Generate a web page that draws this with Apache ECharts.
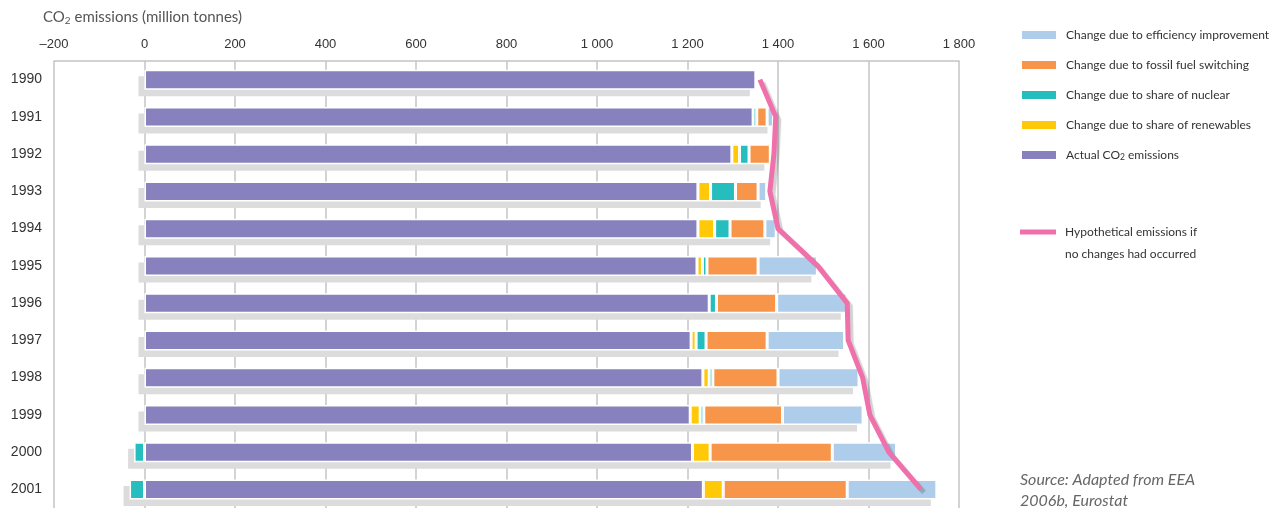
<!DOCTYPE html>
<html>
<head>
<meta charset="utf-8">
<script src="https://cdn.jsdelivr.net/npm/echarts@6/dist/echarts.min.js"></script>
<style>
html,body{margin:0;padding:0;background:#fff;}
#chart{width:1281px;height:509px;}
</style>
</head>
<body>
<div id="chart"></div>
<script>
// ---- data (million tonnes CO2) ----
const years = ['1990','1991','1992','1993','1994','1995','1996','1997','1998','1999','2000','2001'];
const actual      = [1351, 1345, 1298, 1223, 1223, 1221, 1248, 1208, 1234, 1206, 1211, 1235];
const renewables  = [0, 0, 17, 28, 37, 12, 0, 11, 14, 22, 39, 44];
const nuclear     = [0, 8, 21, 55, 34, 10, 16, 22, 8, 8, -23, -33];
const fossil      = [0, 23, 47, 50, 77, 113, 133, 135, 144, 174, 270, 274];
const efficiency  = [0, 14, 0, 19, 25, 131, 155, 171, 179, 178, 142, 198];
const hypothetical = [1360, 1395, 1391, 1382, 1400, 1488, 1553, 1555, 1587, 1603, 1645, 1716];
const xTicks = {min: -200, max: 1800, interval: 200};

const NAMES = {
  eff: 'Change due to efficiency improvement',
  fos: 'Change due to fossil fuel switching',
  nuc: 'Change due to share of nuclear',
  ren: 'Change due to share of renewables',
  act: 'Actual CO2 emissions',
  hyp: 'Hypothetical emissions if no changes had occurred'
};
const COLORS = {eff:'#aecdea', fos:'#f7964a', nuc:'#25bdbe', ren:'#ffc907', act:'#8781bd', hyp:'#ef70aa'};

// shadow extents built from the stacked values
const shadowData = years.map((y, i) => {
  const parts = [actual[i], renewables[i], nuclear[i], fossil[i], efficiency[i]];
  let pos = 0, neg = 0;
  parts.forEach(v => { if (v >= 0) pos += v; else neg += v; });
  return [i, neg, pos];
});

const SANS = '"Liberation Sans", Arial, sans-serif';
const LATO = 'Lato, "Open Sans", sans-serif';

function fmtTick(v) {
  if (v < 0) return '\u2013' + Math.abs(v);
  if (v >= 1000) return Math.floor(v / 1000) + ' ' + String(v % 1000).padStart(3, '0');
  return String(v);
}

const barBase = {
  type: 'bar',
  stack: 'total',
  barWidth: 20,
  z: 3,
  itemStyle: {borderColor: '#ffffff', borderWidth: 1.5},
  emphasis: {disabled: true}
};

const chart = echarts.init(document.getElementById('chart'), null, {renderer: 'canvas'});
chart.setOption({
  animation: false,
  backgroundColor: '#ffffff',
  grid: {left: 54, right: 322, top: 61, bottom: 1, containLabel: false},
  xAxis: {
    type: 'value',
    position: 'top',
    min: xTicks.min, max: xTicks.max, interval: xTicks.interval,
    axisLine: {show: true, lineStyle: {color: '#c4c4c4', width: 1.5}},
    axisTick: {show: false},
    axisLabel: {color: '#333', fontSize: 13, fontFamily: SANS, margin: 10, formatter: fmtTick},
    splitLine: {show: true, lineStyle: {color: '#c4c4c4', width: 1.5}}
  },
  yAxis: {
    type: 'category',
    data: years,
    inverse: true,
    axisLine: {show: false},
    axisTick: {show: false},
    axisLabel: {color: '#333', fontSize: 14, fontFamily: SANS, margin: 12},
    splitLine: {show: false}
  },
  legend: [
    {
      orient: 'vertical',
      left: 1020, top: 27,
      padding: 0,
      itemWidth: 36, itemHeight: 10, itemGap: 14,
      icon: 'rect',
      selectedMode: false,
      data: [NAMES.eff, NAMES.fos, NAMES.nuc, NAMES.ren, NAMES.act],
      formatter: function (name) {
        if (name === NAMES.act) return '{a|Actual CO}{s|2}{a| emissions}';
        return '{a|' + name + '}';
      },
      textStyle: {
        color: '#333', fontSize: 12, fontFamily: LATO, lineHeight: 16, padding: [0, 0, 0, 4],
        rich: {
          a: {color: '#333', fontSize: 12, fontFamily: LATO, lineHeight: 16},
          s: {color: '#333', fontSize: 8.5, fontFamily: LATO, lineHeight: 16, padding: [5, 0, 0, 0]}
        }
      }
    },
    {
      orient: 'vertical',
      left: 1020, top: 199,
      padding: 0,
      itemWidth: 36, itemHeight: 5,
      icon: 'rect',
      selectedMode: false,
      data: [NAMES.hyp],
      formatter: function () { return '\u00a0\nHypothetical emissions if\nno changes had occurred'; },
      textStyle: {color: '#333', fontSize: 12, fontFamily: LATO, lineHeight: 22, padding: [0, 0, 0, 4]}
    }
  ],
  graphic: [
    {
      type: 'text', left: 43, top: 10,
      style: {
        text: '{a|CO}{s|2}{a| emissions (million tonnes)}',
        rich: {
          a: {fontSize: 15, fontFamily: LATO, fill: '#555'},
          s: {fontSize: 10, fontFamily: LATO, fill: '#555', padding: [6, 0, 0, 0]}
        }
      }
    },
    {
      type: 'text', left: 1020, top: 469,
      style: {
        text: 'Source: Adapted from EEA\n2006b, Eurostat',
        fontSize: 16, fontStyle: 'italic', fontFamily: LATO,
        fill: '#666', lineHeight: 21
      }
    }
  ],
  series: [
    {
      type: 'custom',
      name: 'shadow',
      z: 1,
      silent: true,
      encode: {x: [1, 2], y: 0},
      data: shadowData,
      renderItem: function (params, api) {
        const cat = api.value(0);
        const s = api.coord([api.value(1), cat]);
        const e = api.coord([api.value(2), cat]);
        return {
          type: 'rect',
          shape: {x: s[0] - 6, y: s[1] - 10 + 6.5, width: e[0] - s[0], height: 20},
          style: {fill: '#dcdcdc'}
        };
      }
    },
    Object.assign({}, barBase, {name: NAMES.act, data: actual, itemStyle: Object.assign({}, barBase.itemStyle, {color: COLORS.act})}),
    Object.assign({}, barBase, {name: NAMES.ren, data: renewables, itemStyle: Object.assign({}, barBase.itemStyle, {color: COLORS.ren})}),
    Object.assign({}, barBase, {name: NAMES.nuc, data: nuclear, itemStyle: Object.assign({}, barBase.itemStyle, {color: COLORS.nuc})}),
    Object.assign({}, barBase, {name: NAMES.fos, data: fossil, itemStyle: Object.assign({}, barBase.itemStyle, {color: COLORS.fos})}),
    Object.assign({}, barBase, {name: NAMES.eff, data: efficiency, itemStyle: Object.assign({}, barBase.itemStyle, {color: COLORS.eff})}),
    {
      type: 'line',
      name: NAMES.hyp,
      data: hypothetical,
      z: 10,
      symbol: 'none',
      itemStyle: {color: COLORS.hyp},
      lineStyle: {color: COLORS.hyp, width: 5, cap: 'butt', join: 'miter',
        shadowColor: 'rgba(0,0,0,0.18)', shadowBlur: 1, shadowOffsetX: 3, shadowOffsetY: 3},
      emphasis: {disabled: true}
    }
  ]
});
</script>
</body>
</html>
